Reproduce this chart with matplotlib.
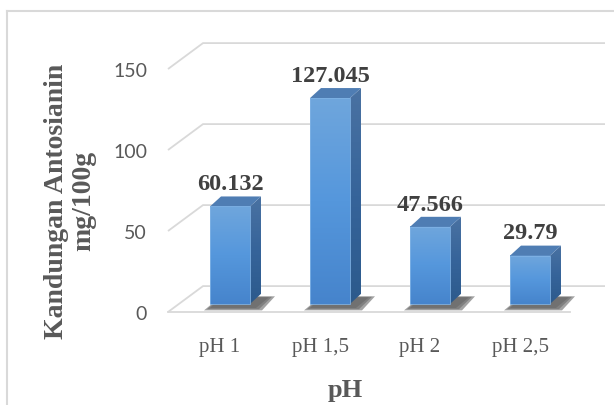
import numpy as np
import matplotlib
matplotlib.use('Agg')
from matplotlib import pyplot as plt
from matplotlib.patches import Polygon
from matplotlib.colors import LinearSegmentedColormap

# data
categories = ['pH 1', 'pH 1,5', 'pH 2', 'pH 2,5']
values = [60.132, 127.045, 47.566, 29.79]
value_labels = ['60.132', '127.045', '47.566', '29.79']
yticks = [0, 50, 100, 150]

# pseudo 3d geometry (category units, value units)
wall_dx, wall_dy = 0.35, 16.0      # front edge -> back wall
bar_dx, bar_dy = 0.10, 5.0         # front edge -> bar front face
depth_dx, depth_dy = 0.11, 6.2     # bar thickness
bar_w = 0.40

grid_col = '#D9D9D9'
text_col = '#595959'
serif = 'Liberation Serif'

fig = plt.figure(figsize=(6.14, 4.05), dpi=100)
ax = fig.add_axes([0, 0, 1, 1])
ax.axis('off')

n = len(categories)
left = -0.52
right = n - 0.5

# gridlines: side wall + back wall
for t in yticks:
    ax.plot([left, left + wall_dx, right + wall_dx],
            [t, t + wall_dy, t + wall_dy],
            color=grid_col, lw=1.3, zorder=1, solid_capstyle='butt')
    ax.text(left - 0.21, t - 1.5, str(t), ha='right', va='center',
            fontsize=14, color=text_col, family='Lato')
# front edge of the floor
ax.plot([left, right], [0, 0], color=grid_col, lw=1.3, zorder=1)

front_cmap = LinearSegmentedColormap.from_list(
    'front', ['#4684CC', '#5597DC', '#6FA6DD'])
side_cmap = LinearSegmentedColormap.from_list(
    'side', ['#2C5A8C', '#36649A', '#4A72A2'])
grad = np.linspace(0, 1, 256).reshape(-1, 1)

for i, v in enumerate(values):
    cx = i + bar_dx
    x0, x1 = cx - bar_w / 2, cx + bar_w / 2
    y0, y1 = bar_dy, v + bar_dy

    # soft shadow on the floor
    for k, a in enumerate([0.15, 0.25, 0.40]):
        g = 0.03 * (2 - k)
        sh = [(x0 - 0.06 + g, 1.0 + g * 25), (x1 + 0.12 - g, 1.0 + g * 25),
              (x1 + depth_dx + 0.14 - g, y0 + depth_dy - 1.5 - g * 10),
              (x0 + depth_dx, y0 + depth_dy - 1.5 - g * 10)]
        ax.add_patch(Polygon(sh, closed=True, fc='#1A1A1A', ec='none',
                             alpha=a, zorder=2))

    # front face with vertical gradient
    ax.imshow(grad, extent=[x0, x1, y0, y1], origin='lower',
              cmap=front_cmap, aspect='auto', zorder=3, interpolation='bilinear')
    ax.add_patch(Polygon([(x0, y0), (x1, y0), (x1, y1), (x0, y1)],
                         closed=True, fc='none', ec='#7FB2E5', lw=0.6, zorder=3.2))
    # side face, gradient clipped to the parallelogram
    side = Polygon([(x1, y0), (x1 + depth_dx, y0 + depth_dy),
                    (x1 + depth_dx, y1 + depth_dy), (x1, y1)],
                   closed=True, fc='none', ec='none', zorder=3)
    ax.add_patch(side)
    im = ax.imshow(grad, extent=[x1, x1 + depth_dx, y0, y1 + depth_dy],
                   origin='lower', cmap=side_cmap, aspect='auto', zorder=3,
                   interpolation='bilinear')
    im.set_clip_path(side)
    # top face
    top = [(x0, y1), (x1, y1), (x1 + depth_dx, y1 + depth_dy),
           (x0 + depth_dx, y1 + depth_dy)]
    ax.add_patch(Polygon(top, closed=True, fc='#4F7DB3', ec='none', zorder=3))

    ax.text(cx, v + 15, value_labels[i], ha='center', va='baseline',
            fontsize=17.5, fontweight='bold', color='#404040', family=serif, zorder=4)

    ax.text(i, -24.7, categories[i], ha='center', va='baseline',
            fontsize=15, color=text_col, family=serif)

ax.text(1.25, -52.5, 'pH', ha='center', va='baseline', fontsize=19,
        fontweight='bold', color=text_col, family=serif)

ax.set_xlim(-2.2, 3.94)
ax.set_ylim(-57.4, 192.6)

fig.text(0.114, 0.504, 'Kandungan Antosianin\nmg/100g', rotation=90,
         ha='center', va='center', multialignment='center', linespacing=1.15,
         fontsize=20, fontweight='bold', color=text_col, family=serif)

# chart area border
fig.add_artist(plt.Line2D([7 / 614, 7 / 614], [0, 1 - 11 / 405],
                          transform=fig.transFigure, color=grid_col, lw=1.5))
fig.add_artist(plt.Line2D([7 / 614, 1], [1 - 11 / 405, 1 - 11 / 405],
                          transform=fig.transFigure, color=grid_col, lw=1.5))

fig.savefig('out.png', dpi=100)
